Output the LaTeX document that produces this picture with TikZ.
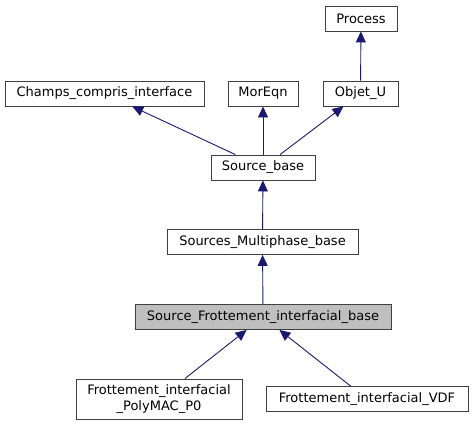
\documentclass[tikz,border=0pt]{standalone}
\usepackage{fontspec}
\setmainfont{DejaVu Sans}
\usetikzlibrary{arrows.meta}
\definecolor{edgeBlue}{HTML}{191970}
\definecolor{boxGrey}{HTML}{404040}
\definecolor{fillGrey}{HTML}{BFBFBF}
\tikzset{
  classNode/.style={%
    rectangle, draw=boxGrey, line width=0.9pt, fill=white,
    inner sep=0pt, minimum height=25pt,
    font=\fontsize{13}{15.5}\selectfont, align=center,
  },
  edge/.style={%
    draw=edgeBlue, line width=0.9pt,
    -{Triangle[length=11pt,width=10pt,fill=edgeBlue]},
  }
}

\begin{document}
\begin{tikzpicture}[x=1pt,y=-1pt]

          \useasboundingbox (0,0) rectangle (473,425);

          \node[classNode,minimum width=72pt] (process) at (361,18.5) {Process} ;
          \node[classNode,minimum width=199pt] (champs) at (104.5,93.5) {Champs\_compris\_interface} ;
          \node[classNode,minimum width=70pt] (moreqn) at (263,93.5) {MorEqn} ;
          \node[classNode,minimum width=75pt] (objetU) at (360.5,93.5) {Objet\_U} ;
          \node[classNode,minimum width=104pt] (sourceBase) at (263,167.5) {Source\_base} ;
          \node[classNode,minimum width=191pt] (multiphase) at (262.5,242) {Sources\_Multiphase\_base} ;
          \node[classNode,minimum width=256pt,fill=fillGrey] (frottBase) at (263,317) {Source\_Frottement\_interfacial\_base} ;
          \node[classNode,minimum width=166pt,minimum height=40pt] (polymac) at (159,399) {Frottement\_interfacial\\\_PolyMAC\_P0} ;
          \node[classNode,minimum width=202pt] (vdf) at (367,399) {Frottement\_interfacial\_VDF} ;

          \draw[edge] (objetU) -- (process) ;
          \draw[edge] (sourceBase) -- (champs) ;
          \draw[edge] (sourceBase) -- (moreqn) ;
          \draw[edge] (sourceBase) -- (objetU) ;
          \draw[edge] (multiphase) -- (sourceBase) ;
          \draw[edge] (frottBase) -- (multiphase) ;
          \draw[edge] (polymac) -- (frottBase) ;
          \draw[edge] (vdf) -- (frottBase) ;

        \end{tikzpicture}
\end{document}
